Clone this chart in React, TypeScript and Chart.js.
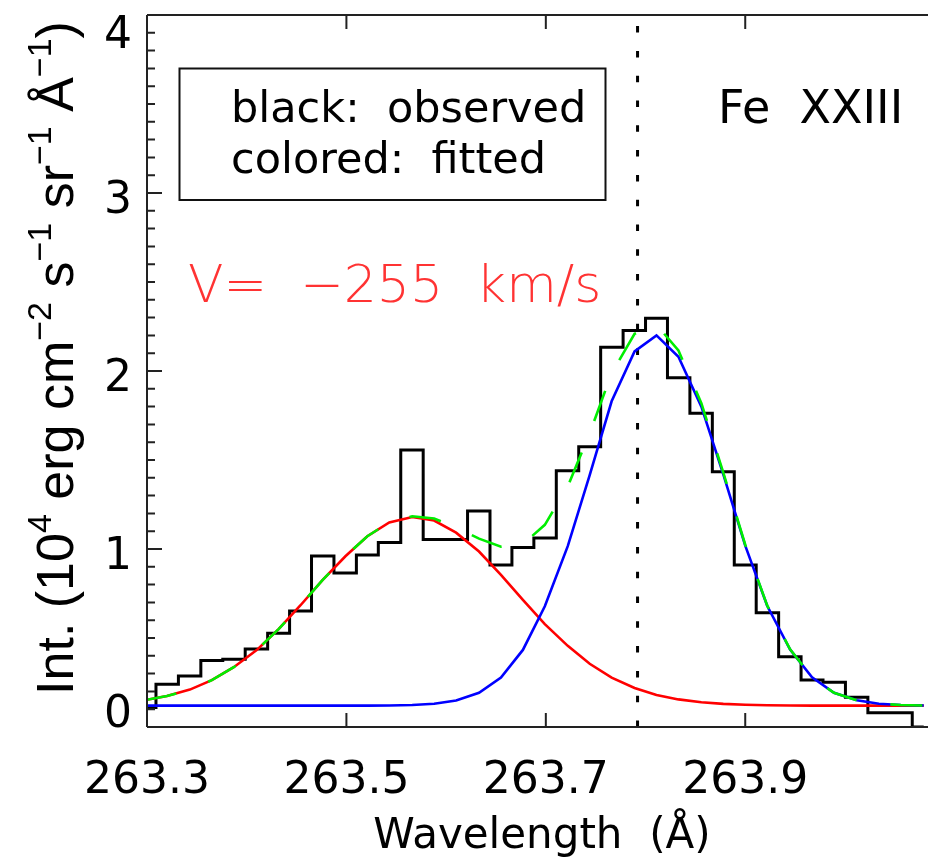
import React, { useEffect, useRef } from "react";
import { Chart, registerables } from "chart.js";

Chart.register(...registerables);

// ---- data ----
const wavelengths = [
  263.298, 263.320, 263.343, 263.365, 263.387, 263.410, 263.432, 263.454, 263.476,
  263.499, 263.521, 263.543, 263.566, 263.588, 263.610, 263.633, 263.655, 263.677,
  263.699, 263.722, 263.744, 263.766, 263.789, 263.811, 263.833, 263.856, 263.878,
  263.900, 263.922, 263.945, 263.967, 263.989, 264.012, 264.034, 264.056, 264.079,
];
const observed = [
  0.11, 0.24, 0.287, 0.373, 0.38, 0.438, 0.526, 0.652, 0.961,
  0.865, 0.966, 1.037, 1.556, 1.054, 1.054, 1.213, 0.91, 1.009,
  1.062, 1.44, 1.575, 2.133, 2.227, 2.296, 1.962, 1.762, 1.434,
  0.91, 0.642, 0.395, 0.264, 0.251, 0.167, 0.08, 0.08, 0.0,
];
const fitRed = [
  0.151, 0.174, 0.21, 0.263, 0.336, 0.432, 0.55, 0.684, 0.825,
  0.959, 1.072, 1.149, 1.18, 1.16, 1.092, 0.986, 0.855, 0.714,
  0.578, 0.456, 0.355, 0.277, 0.219, 0.18, 0.155, 0.139, 0.13,
  0.125, 0.122, 0.121, 0.12, 0.12, 0.12, 0.12, 0.12, 0.12,
];
const fitBlue = [
  0.12, 0.12, 0.12, 0.12, 0.12, 0.12, 0.12, 0.12, 0.12,
  0.12, 0.12, 0.121, 0.124, 0.131, 0.149, 0.192, 0.278, 0.433,
  0.678, 1.016, 1.415, 1.83, 2.11, 2.2, 2.08, 1.8, 1.419,
  1.019, 0.681, 0.435, 0.279, 0.192, 0.15, 0.131, 0.124, 0.121,
];
const fitTotal = [
  0.151, 0.174, 0.21, 0.263, 0.336, 0.432, 0.55, 0.684, 0.825,
  0.959, 1.072, 1.15, 1.184, 1.171, 1.121, 1.058, 1.013, 1.027,
  1.136, 1.352, 1.65, 1.987, 2.209, 2.26, 2.115, 1.819, 1.429,
  1.024, 0.683, 0.436, 0.279, 0.192, 0.15, 0.131, 0.124, 0.121,
];
const xTicks = [263.3, 263.5, 263.7, 263.9];
const xTickLabels = ["263.3", "263.5", "263.7", "263.9"];
const yTicks = [0, 1, 2, 3, 4];
const yTickLabels = ["0", "1", "2", "3", "4"];
const yMinorPerMajor = 10;
const restWavelength = 263.792;
const xMin = 263.3;
const xMax = 264.0833;
const yMin = 0;
const yMax = 4;

const lineLabel = "Fe  XXIII";
const velocityLabel = "V=  \u2212255  km/s";
const legendLines = ["black:  observed", "colored:  fitted"];
const xTitle = "Wavelength  (\u00c5)";
const yTitleParts: [string, boolean][] = [
  ["Int. (10", false],
  ["4", true],
  [" erg cm", false],
  ["\u22122", true],
  [" s", false],
  ["\u22121", true],
  [" sr", false],
  ["\u22121", true],
  [" \u00c5", false],
  ["\u22121", true],
  [")", false],
];

const pts = (ys: number[]) => wavelengths.map((x, i) => ({ x, y: ys[i] }));

const decor = {
  id: "decor",
  beforeDatasetsDraw(chart: any) {
    const { ctx, chartArea: a, scales } = chart;
    const xp = scales.x.getPixelForValue(restWavelength);
    ctx.save();
    ctx.strokeStyle = "#000";
    ctx.lineWidth = 3;
    ctx.setLineDash([6.5, 18.3]);
    ctx.beginPath();
    ctx.moveTo(xp, a.bottom);
    ctx.lineTo(xp, a.top);
    ctx.stroke();
    ctx.restore();
  },
  afterDraw(chart: any) {
    const { ctx, chartArea: a, scales } = chart;
    const xs = scales.x;
    const ys = scales.y;
    ctx.save();
    // axes
    ctx.strokeStyle = "#222";
    ctx.lineWidth = 2;
    ctx.setLineDash([]);
    ctx.beginPath();
    ctx.moveTo(a.left, a.top);
    ctx.lineTo(a.left, a.bottom);
    ctx.moveTo(a.left, a.bottom);
    ctx.lineTo(a.right + 5, a.bottom);
    ctx.moveTo(a.left, a.top);
    ctx.lineTo(a.right + 5, a.top);
    ctx.stroke();
    // y ticks
    ctx.beginPath();
    for (let i = 0; i < yTicks.length; i++) {
      const py = ys.getPixelForValue(yTicks[i]);
      ctx.moveTo(a.left, py);
      ctx.lineTo(a.left + 15, py);
      if (i < yTicks.length - 1) {
        const step = (yTicks[i + 1] - yTicks[i]) / yMinorPerMajor;
        for (let k = 1; k < yMinorPerMajor; k++) {
          const pm = ys.getPixelForValue(yTicks[i] + k * step);
          ctx.moveTo(a.left, pm);
          ctx.lineTo(a.left + 8, pm);
        }
      }
    }
    // x ticks bottom & top
    for (const t of xTicks) {
      const px = xs.getPixelForValue(t);
      ctx.moveTo(px, a.bottom);
      ctx.lineTo(px, a.bottom - 14);
      ctx.moveTo(px, a.top);
      ctx.lineTo(px, a.top + 14);
    }
    ctx.stroke();

    // tick labels
    ctx.fillStyle = "#000";
    ctx.font = '44px "DejaVu Sans", sans-serif';
    ctx.textBaseline = "alphabetic";
    ctx.textAlign = "right";
    for (let i = 0; i < yTicks.length; i++) {
      const py = ys.getPixelForValue(yTicks[i]);
      const c = Math.min(Math.max(py + 4, a.top + 17), a.bottom - 16);
      ctx.fillText(yTickLabels[i], a.left - 15, c + 16);
    }
    ctx.textAlign = "center";
    for (let i = 0; i < xTicks.length; i++) {
      ctx.fillText(xTickLabels[i], xs.getPixelForValue(xTicks[i]), a.bottom + 66);
    }
    // x title
    ctx.font = '42px "DejaVu Sans", sans-serif';
    ctx.fillText(xTitle, 542, 848);

    // y title (rotated, with superscripts)
    const fs = 52;
    const supFs = 34;
    let total = 0;
    for (const [t, sup] of yTitleParts) {
      ctx.font = `${sup ? supFs : fs}px "Liberation Sans", Arial, sans-serif`;
      total += ctx.measureText(t).width;
    }
    ctx.save();
    ctx.translate(73, 358);
    ctx.rotate(-Math.PI / 2);
    ctx.textAlign = "left";
    let cx = -total / 2;
    for (const [t, sup] of yTitleParts) {
      ctx.font = `${sup ? supFs : fs}px "Liberation Sans", Arial, sans-serif`;
      ctx.fillText(t, cx, sup ? -22 : 0);
      cx += ctx.measureText(t).width;
    }
    ctx.restore();

    // legend box
    ctx.strokeStyle = "#111";
    ctx.lineWidth = 2;
    ctx.strokeRect(179.5, 68.5, 426, 131.5);
    ctx.textAlign = "left";
    ctx.font = '43px "DejaVu Sans", sans-serif';
    ctx.fillText(legendLines[0], 231, 121.7);
    ctx.fillText(legendLines[1], 231, 173.3);

    // line identification
    ctx.font = '46px "DejaVu Sans", sans-serif';
    ctx.fillText(lineLabel, 718, 123);

    // velocity
    ctx.fillStyle = "#ff3333";
    ctx.font = '300 52px "DejaVu Sans", sans-serif';
    ctx.fillText(velocityLabel, 188, 301.7);
    ctx.restore();
  },
};

export default function App() {
  const ref = useRef<HTMLCanvasElement>(null);
  useEffect(() => {
    if (!ref.current) return;
    const chart = new Chart(ref.current, {
      type: "line",
      data: {
        datasets: [
          {
            label: "total fit",
            data: pts(fitTotal),
            borderColor: "#00ee00",
            borderWidth: 2.6,
            borderDash: [32, 34],
            pointRadius: 0,
            tension: 0,
            fill: false,
            order: 0,
          },
          {
            label: "component 2",
            data: pts(fitBlue),
            borderColor: "#0000ff",
            borderWidth: 2.6,
            pointRadius: 0,
            tension: 0,
            fill: false,
            order: 1,
          },
          {
            label: "component 1",
            data: pts(fitRed),
            borderColor: "#ff0000",
            borderWidth: 2.6,
            pointRadius: 0,
            tension: 0,
            fill: false,
            order: 2,
          },
          {
            label: "observed",
            data: pts(observed),
            borderColor: "#000000",
            borderWidth: 3,
            pointRadius: 0,
            stepped: "middle",
            fill: false,
            order: 3,
          },
        ],
      },
      options: {
        animation: false,
        responsive: false,
        events: [],
        layout: { padding: { left: 147, top: 15, right: 0, bottom: 135 } },
        plugins: { legend: { display: false }, tooltip: { enabled: false } },
        scales: {
          x: {
            type: "linear",
            min: xMin,
            max: xMax,
            ticks: { display: false },
            grid: { display: false, drawTicks: false },
            border: { display: false },
            title: { display: false },
          },
          y: {
            type: "linear",
            min: yMin,
            max: yMax,
            ticks: { display: false },
            grid: { display: false, drawTicks: false },
            border: { display: false },
            title: { display: false },
          },
        },
      },
      plugins: [decor],
    });
    return () => chart.destroy();
  }, []);
  return (
    <div style={{ position: "absolute", left: 0, top: 0, width: 928, height: 862, overflow: "hidden", background: "#fff" }}>
      <canvas ref={ref} width={928} height={862} style={{ width: 928, height: 862, display: "block" }} />
    </div>
  );
}
